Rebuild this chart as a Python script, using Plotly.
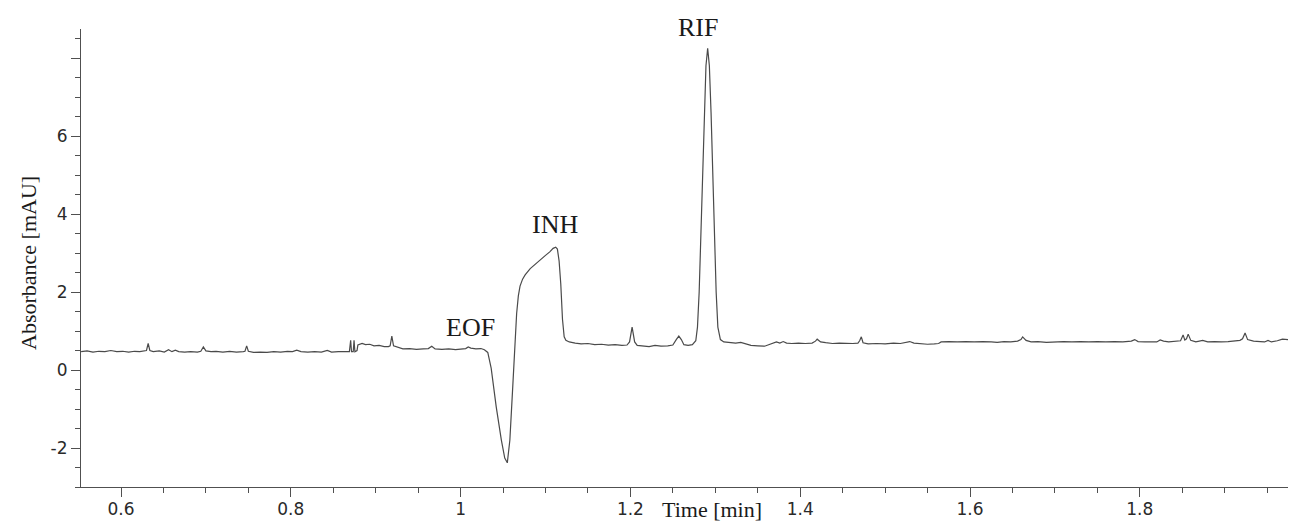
import plotly.graph_objects as go

# Electropherogram trace: time [min] and absorbance [mAU]
time_min = [
    0.553, 0.560, 0.567, 0.574, 0.581, 0.588, 0.595, 0.602, 0.609, 0.616, 0.622, 0.628,
    0.630, 0.632, 0.634, 0.638, 0.645, 0.651, 0.656, 0.660, 0.664, 0.668, 0.675, 0.682,
    0.690, 0.694, 0.697, 0.700, 0.706, 0.712, 0.720, 0.728, 0.736, 0.744, 0.746, 0.748,
    0.750, 0.756, 0.764, 0.772, 0.780, 0.788, 0.796, 0.802, 0.807, 0.812, 0.820, 0.828,
    0.836, 0.843, 0.848, 0.856, 0.864, 0.869, 0.8705, 0.8715, 0.8735, 0.8745, 0.8755, 0.878,
    0.879, 0.884, 0.888, 0.893, 0.898, 0.904, 0.910, 0.915, 0.917, 0.919, 0.921, 0.926,
    0.932, 0.940, 0.948, 0.956, 0.962, 0.966, 0.970, 0.978, 0.986, 0.994, 1.000, 1.006,
    1.009, 1.012, 1.018, 1.024, 1.028, 1.032, 1.036, 1.042, 1.048, 1.052, 1.055, 1.058,
    1.061, 1.064, 1.066, 1.068, 1.070, 1.073, 1.076, 1.082, 1.088, 1.094, 1.100, 1.105,
    1.109, 1.112, 1.114, 1.116, 1.118, 1.120, 1.122, 1.124, 1.128, 1.135, 1.142, 1.150,
    1.158, 1.166, 1.174, 1.182, 1.190, 1.196, 1.199, 1.202, 1.205, 1.208, 1.215, 1.222,
    1.229, 1.236, 1.244, 1.250, 1.254, 1.257, 1.260, 1.263, 1.268, 1.273, 1.277, 1.279,
    1.281, 1.283, 1.285, 1.287, 1.289, 1.291, 1.293, 1.295, 1.297, 1.299, 1.301, 1.303,
    1.306, 1.310, 1.316, 1.324, 1.330, 1.336, 1.342, 1.350, 1.358, 1.362, 1.368, 1.372,
    1.376, 1.380, 1.384, 1.390, 1.398, 1.406, 1.414, 1.418, 1.420, 1.424, 1.430, 1.438,
    1.446, 1.454, 1.462, 1.468, 1.470, 1.472, 1.474, 1.480, 1.490, 1.500, 1.510, 1.518,
    1.524, 1.529, 1.534, 1.542, 1.550, 1.558, 1.563, 1.566, 1.575, 1.585, 1.595, 1.605,
    1.615, 1.625, 1.632, 1.640, 1.648, 1.656, 1.660, 1.662, 1.666, 1.672, 1.680, 1.690,
    1.700, 1.710, 1.720, 1.730, 1.740, 1.750, 1.760, 1.770, 1.780, 1.790, 1.794, 1.798,
    1.806, 1.814, 1.820, 1.824, 1.828, 1.834, 1.842, 1.848, 1.851, 1.853, 1.855, 1.857,
    1.860, 1.866, 1.874, 1.880, 1.888, 1.896, 1.904, 1.912, 1.918, 1.921, 1.924, 1.927,
    1.934, 1.942, 1.947, 1.951, 1.955, 1.962, 1.968, 1.975, 1.984,
]
absorbance_mau = [
    0.47, 0.49, 0.46, 0.48, 0.47, 0.50, 0.47, 0.48, 0.46, 0.48, 0.47, 0.49,
    0.50, 0.68, 0.50, 0.47, 0.49, 0.46, 0.52, 0.47, 0.51, 0.47, 0.46, 0.47,
    0.46, 0.48, 0.59, 0.49, 0.47, 0.48, 0.46, 0.48, 0.46, 0.47, 0.48, 0.62,
    0.48, 0.45, 0.46, 0.45, 0.47, 0.46, 0.48, 0.47, 0.51, 0.47, 0.46, 0.47,
    0.46, 0.50, 0.46, 0.47, 0.46, 0.47, 0.76, 0.47, 0.47, 0.76, 0.47, 0.50,
    0.64, 0.68, 0.65, 0.66, 0.62, 0.63, 0.60, 0.60, 0.62, 0.87, 0.62, 0.58,
    0.54, 0.55, 0.53, 0.54, 0.55, 0.61, 0.54, 0.53, 0.54, 0.52, 0.54, 0.55,
    0.59, 0.56, 0.54, 0.55, 0.52, 0.45, 0.05, -0.95, -1.80, -2.26, -2.38, -1.80,
    -0.60, 0.77, 1.45, 1.90, 2.15, 2.33, 2.44, 2.60, 2.72, 2.83, 2.94, 3.03,
    3.12, 3.15, 3.10, 2.80, 2.20, 1.30, 0.85, 0.76, 0.72, 0.69, 0.67, 0.68,
    0.65, 0.66, 0.64, 0.65, 0.63, 0.64, 0.72, 1.10, 0.72, 0.63, 0.61, 0.60,
    0.63, 0.61, 0.62, 0.64, 0.78, 0.87, 0.78, 0.65, 0.63, 0.65, 0.75, 1.10,
    2.00, 3.40, 5.00, 6.60, 7.80, 8.25, 7.80, 6.60, 5.00, 3.40, 2.00, 1.10,
    0.78, 0.72, 0.70, 0.69, 0.71, 0.66, 0.63, 0.62, 0.61, 0.64, 0.68, 0.72,
    0.69, 0.73, 0.69, 0.68, 0.69, 0.68, 0.69, 0.74, 0.79, 0.72, 0.70, 0.68,
    0.69, 0.68, 0.68, 0.69, 0.75, 0.85, 0.70, 0.67, 0.68, 0.67, 0.69, 0.68,
    0.71, 0.73, 0.69, 0.68, 0.66, 0.67, 0.68, 0.72, 0.73, 0.72, 0.73, 0.72,
    0.73, 0.72, 0.71, 0.73, 0.72, 0.74, 0.78, 0.85, 0.76, 0.72, 0.73, 0.71,
    0.72, 0.73, 0.72, 0.73, 0.72, 0.73, 0.72, 0.73, 0.72, 0.74, 0.78, 0.73,
    0.72, 0.73, 0.72, 0.77, 0.74, 0.72, 0.73, 0.75, 0.90, 0.77, 0.80, 0.92,
    0.76, 0.72, 0.76, 0.72, 0.73, 0.72, 0.73, 0.75, 0.76, 0.80, 0.95, 0.78,
    0.74, 0.73, 0.72, 0.76, 0.72, 0.75, 0.79, 0.78, 0.76,
]

peak_labels = ["EOF", "INH", "RIF"]
peak_label_x = [1.0122, 1.111, 1.2796]
peak_label_y = [1.10, 3.74, 8.50]

x_tick_vals = [0.6, 0.8, 1.0, 1.2, 1.4, 1.6, 1.8]
y_tick_vals = [-2, 0, 2, 4, 6, 8]
y_tick_text = ["-2", "0", "2", "4", "6", ""]

axis_color = "#505050"
tick_font = dict(family="DejaVu Sans", size=17, color="#2a2a2a")
serif = "Liberation Serif"

# page has an 8px body margin; plot area in page pixels: x 81..1296, y 29..487
W, H = 1288, 516
ML, MT, MB = 73, 21, 37
PX0, PY1, PW, PH = 81, 487, 1215, 458

fig = go.Figure()
fig.add_trace(go.Scatter(
    x=time_min, y=absorbance_mau, mode="lines",
    line=dict(color="#4a4a4a", width=1.2),
    showlegend=False, hoverinfo="x+y",
))

for lab, lx, ly in zip(peak_labels, peak_label_x, peak_label_y):
    if lab == "RIF":
        fig.add_annotation(x=lx, y=(PY1 - 27) / PH, xref="x", yref="paper", text=lab,
                           showarrow=False, font=dict(family=serif, size=26, color="#1a1a1a"),
                           xanchor="center", yanchor="middle")
    else:
        fig.add_annotation(x=lx, y=ly, xref="x", yref="y", text=lab, showarrow=False,
                           font=dict(family=serif, size=26, color="#1a1a1a"),
                           xanchor="center", yanchor="middle")

fig.add_annotation(xref="paper", yref="paper", x=(712 - PX0) / PW, y=(PY1 - 509) / PH,
                   text="Time [min]", showarrow=False, xanchor="center", yanchor="middle",
                   font=dict(family=serif, size=22, color="#1a1a1a"))
fig.add_annotation(xref="paper", yref="paper", x=(28 - PX0) / PW, y=(PY1 - 263) / PH,
                   text="Absorbance [mAU]", textangle=-90, showarrow=False,
                   xanchor="center", yanchor="middle",
                   font=dict(family=serif, size=22, color="#1a1a1a"))

fig.update_xaxes(
    range=[0.55288, 1.98398], tickmode="array", tickvals=x_tick_vals,
    ticks="outside", ticklen=9, tickwidth=1, tickcolor=axis_color,
    showline=True, linecolor=axis_color, linewidth=1.2,
    showgrid=False, zeroline=False, tickfont=tick_font, ticklabelstandoff=-3,
    minor=dict(ticks="outside", ticklen=5, tickwidth=1, tickcolor=axis_color,
               tickmode="linear", tick0=0, dtick=0.05, showgrid=False),
)
fig.update_yaxes(
    range=[-3.0, 8.744], tickmode="array", tickvals=y_tick_vals, ticktext=y_tick_text,
    ticks="outside", ticklen=9, tickwidth=1, tickcolor=axis_color,
    showline=True, linecolor=axis_color, linewidth=1.2,
    showgrid=False, zeroline=False, tickfont=tick_font,
    minor=dict(ticks="outside", ticklen=5, tickwidth=1, tickcolor=axis_color,
               tickmode="linear", tick0=0, dtick=0.5, showgrid=False),
)

fig.update_layout(
    width=W, height=H,
    margin=dict(l=ML, r=0, t=MT, b=MB),
    paper_bgcolor="white", plot_bgcolor="white",
    showlegend=False,
)

fig.write_html("out.html")
